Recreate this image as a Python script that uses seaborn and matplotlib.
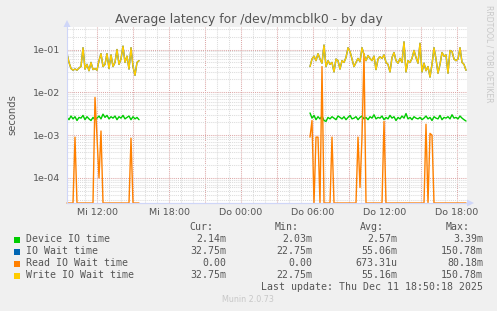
import numpy as np
import pandas as pd
import matplotlib
matplotlib.use("Agg")
import matplotlib.pyplot as plt
import seaborn as sns
from matplotlib.ticker import FixedLocator, FixedFormatter, LogLocator, NullFormatter
from matplotlib.patches import Rectangle, Polygon

# ---------------- data (values in milliseconds) ----------------
# time axis: hours since Wed (Mi) 00:00, 10-minute samples, two segments with a gap
seg1_start = 9.5      # Mi 09:30
seg2_start = 29.75    # Do 05:45
sample_step = 1.0 / 6.0

device_io_seg1 = [2.6, 2.3, 2.8, 2.4, 2.7, 2.2, 2.6, 2.5, 2.9, 2.3,
                  2.7, 2.4, 2.2, 2.6, 2.3, 2.5, 2.8, 2.4, 3.1, 2.6,
                  2.9, 2.4, 2.7, 2.5, 2.8, 2.3, 2.7, 2.5, 2.9, 2.4,
                  2.6, 2.8, 2.3, 2.7, 2.4, 2.6, 2.3]
device_io_seg2 = [3.3, 2.5, 2.9, 2.3, 2.7, 2.4, 2.8, 2.2, 2.1, 2.6,
                  2.4, 2.7, 2.5, 2.3, 2.8, 2.6, 2.4, 2.7, 2.3, 2.6,
                  2.9, 2.4, 2.5, 2.7, 2.3, 2.6, 2.8, 2.4, 2.6, 2.3,
                  2.7, 2.5, 3.0, 2.4, 2.6, 2.5, 2.8, 2.3, 2.6, 2.4,
                  2.9, 2.5, 2.7, 2.2, 2.6, 2.4, 2.8, 2.5, 3.2, 2.4,
                  2.6, 2.3, 2.7, 2.5, 2.4, 2.6, 2.3, 2.5, 2.8, 2.4,
                  2.6, 2.2, 2.7, 2.5, 2.4, 2.9, 2.3, 2.6, 2.5, 2.7,
                  2.4, 3.0, 2.5, 2.6, 2.4, 2.8, 2.5, 2.3, 2.14]

write_wait_seg1 = [80, 50, 36, 33, 35, 33, 37, 40, 110, 35,
                   45, 32, 50, 34, 36, 33, 55, 80, 40, 45,
                   80, 36, 75, 40, 50, 100, 45, 60, 120, 50,
                   70, 35, 110, 40, 25, 50, 55]
write_wait_seg2 = [40, 60, 70, 55, 80, 60, 48, 127, 40, 55,
                   45, 50, 30, 60, 55, 35, 55, 50, 65, 110,
                   90, 60, 40, 50, 62, 52, 110, 75, 55, 72,
                   62, 55, 70, 34, 60, 68, 62, 75, 50, 45,
                   30, 65, 85, 55, 48, 62, 50, 150.78, 30, 55,
                   50, 62, 95, 65, 48, 140, 30, 48, 32, 40,
                   22.75, 45, 110, 60, 28, 45, 85, 70, 75, 28,
                   95, 90, 60, 55, 60, 110, 50, 45, 32.75]

io_wait_seg1 = list(write_wait_seg1)
io_wait_seg2 = list(write_wait_seg2)

read_wait_seg1 = [0, 0, 0, 0, 0.9, 0, 0, 0, 0, 0,
                  0, 0, 0, 0, 7.6, 0.9, 0.1, 1.25, 0, 0,
                  0, 0, 0, 0, 0, 0, 0, 0, 0, 0,
                  0, 0, 0.85, 0, 0, 0, 0]
read_wait_seg2 = [0.9, 2.2, 0, 0.9, 0.9, 0, 40, 0, 0, 0,
                  0, 0.9, 0, 0, 0, 0, 0, 0, 0, 0,
                  0, 0, 0, 0, 0.9, 0.06, 0.9, 80.18, 0, 0,
                  0, 0, 0, 0, 0, 0, 0, 2.1, 0, 0,
                  0, 0, 0, 0, 0, 0, 0, 0, 0, 0,
                  0, 0, 0, 0, 0, 0, 0, 0, 1.8, 0,
                  1.1, 1.0, 0, 0, 0, 0, 0, 0, 0, 0,
                  0, 0, 0, 0, 0, 0, 0, 0, 0]

series_names = ["Device IO time", "IO Wait time", "Read IO Wait time", "Write IO Wait time"]
series_colors = ["#00CC00", "#0066B3", "#FF8000", "#FFCC00"]
stat_cur = ["2.14m", "32.75m", "0.00", "32.75m"]
stat_min = ["2.03m", "22.75m", "0.00", "22.75m"]
stat_avg = ["2.57m", "55.06m", "673.31u", "55.16m"]
stat_max = ["3.39m", "150.78m", "80.18m", "150.78m"]

tick_hours = [12, 15, 18, 21, 24, 27, 30, 33, 36, 39, 42]
tick_labels = ["Mi 12:00", "", "Mi 18:00", "", "Do 00:00", "", "Do 06:00", "", "Do 12:00", "", "Do 18:00"]
minor_hours = list(range(10, 43))

title = "Average latency for /dev/mmcblk0 - by day"
last_update = "Last update: Thu Dec 11 18:50:18 2025"

# ---------------- figure ----------------
W, H = 497, 311
sns.set_style("white")
plt.rcParams["font.family"] = ["DejaVu Sans"]

FONT = "#555555"
fig = plt.figure(figsize=(W / 100, H / 100), dpi=100, facecolor="#F0F0F0")

def fx(x):
    return x / W

def fy(y):
    return 1 - y / H

L, R, T, B = 67, 467, 27, 203
ax = fig.add_axes([fx(L), fy(B), (R - L) / W, (B - T) / H])
ax.set_facecolor("white")

ymin = 10 ** -4.584
ymax = 10 ** -0.474


def frame(name, s1, s2, floor=None):
    t1 = seg1_start + sample_step * np.arange(len(s1))
    t2 = seg2_start + sample_step * np.arange(len(s2))
    v = np.r_[np.asarray(s1, float), np.asarray(s2, float)] / 1000.0
    if floor is not None:
        v = np.where(v > 0, v, floor)
    return pd.DataFrame({"hour": np.r_[t1, t2], "value": v,
                         "seg": [0] * len(s1) + [1] * len(s2), "series": name})


ax.set_yscale("log")
data = [
    (frame(series_names[0], device_io_seg1, device_io_seg2), series_colors[0], True),
    (frame(series_names[1], io_wait_seg1, io_wait_seg2), series_colors[1], True),
    (frame(series_names[2], read_wait_seg1, read_wait_seg2, floor=ymin), series_colors[2], False),
    (frame(series_names[3], write_wait_seg1, write_wait_seg2), series_colors[3], True),
]
for df, col, clip in data:
    sns.lineplot(data=df, x="hour", y="value", units="seg", estimator=None,
                 color=col, lw=1.0, ax=ax, legend=False, sort=True, clip_on=clip)

ax.set_xlim(9.5, 42.833)
ax.set_ylim(ymin, ymax)

# grid
GRID = "#DCDCDC"
MGRID = "#DDA8A8"
ax.xaxis.set_major_locator(FixedLocator(tick_hours))
ax.xaxis.set_major_formatter(FixedFormatter(tick_labels))
ax.xaxis.set_minor_locator(FixedLocator(minor_hours))
ax.yaxis.set_major_locator(LogLocator(base=10, numticks=20))
ax.yaxis.set_minor_locator(LogLocator(base=10, subs=np.arange(2, 10), numticks=20))
ax.yaxis.set_minor_formatter(NullFormatter())
ax.yaxis.set_major_formatter(plt.FuncFormatter(lambda v, p: "%.0e" % v))
ax.grid(which="minor", color=GRID, ls=(0, (1, 1)), lw=0.75)
ax.grid(which="major", color=MGRID, ls=(0, (1, 1)), lw=0.75)
ax.set_axisbelow(True)

ax.tick_params(which="both", length=0, labelsize=6.8, colors=FONT)
ax.tick_params(axis="y", pad=5)
ax.tick_params(axis="x", pad=3.5)
ax.set_xlabel("")
ax.set_ylabel("")

for s in ["top", "right"]:
    ax.spines[s].set_visible(False)
for s in ["left", "bottom"]:
    ax.spines[s].set_color("#CFD6F8")
    ax.spines[s].set_linewidth(0.8)

# arrows
ARROW = "#CFD6F8"
fig.add_artist(Polygon([(fx(467), fy(199.5)), (fx(474), fy(203)), (fx(467), fy(206.5))],
                       closed=True, color=ARROW, transform=fig.transFigure, lw=0))
fig.add_artist(Polygon([(fx(63.5), fy(27)), (fx(67), fy(20)), (fx(70.5), fy(27))],
                       closed=True, color=ARROW, transform=fig.transFigure, lw=0))
fig.add_artist(plt.Line2D([fx(67), fx(470)], [fy(203), fy(203)], color=ARROW, lw=0.8,
                          transform=fig.transFigure))

# texts
fig.text(fx(248.5), fy(19), title, ha="center", va="center", fontsize=8.9, color=FONT)
fig.text(fx(12), fy(115), "seconds", ha="center", va="center", rotation=90, fontsize=7.2, color=FONT)
fig.text(fx(489), fy(5), "RRDTOOL / TOBI OETIKER", ha="center", va="top", rotation=270,
         fontsize=5.5, color="#C8C8C8")

MONO = "DejaVu Sans Mono"
fs = 7.1
hdr_y = 227.5
for txt, xr in zip(["Cur:", "Min:", "Avg:", "Max:"], [213, 299, 384, 470]):
    fig.text(fx(xr), fy(hdr_y), txt, ha="right", va="center", family=MONO, fontsize=fs, color=FONT)
row_y = [239.5, 251.5, 263.5, 275.5]
for i, name in enumerate(series_names):
    y = row_y[i]
    fig.add_artist(Rectangle((fx(14), fy(y + 3)), 6 / W, 6 / H, color=series_colors[i],
                             transform=fig.transFigure, lw=0))
    fig.text(fx(26), fy(y), name, ha="left", va="center", family=MONO, fontsize=fs, color=FONT)
    for vals, xr in zip([stat_cur, stat_min, stat_avg, stat_max], [226, 312, 397, 483]):
        fig.text(fx(xr), fy(y), vals[i], ha="right", va="center", family=MONO, fontsize=fs, color=FONT)
fig.text(fx(483), fy(287.5), last_update, ha="right", va="center", family=MONO, fontsize=fs, color=FONT)
fig.text(fx(248), fy(300), "Munin 2.0.73", ha="center", va="center", fontsize=5.8, color="#C8C8C8")

fig.savefig("out.png", dpi=100, facecolor=fig.get_facecolor())
